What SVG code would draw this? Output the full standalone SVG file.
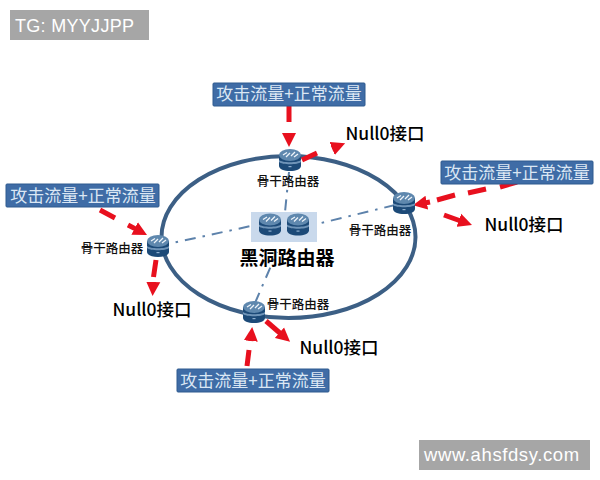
<svg xmlns="http://www.w3.org/2000/svg" width="600" height="480" viewBox="0 0 600 480">
<style>
text{font-family:"Noto Sans CJK SC","Noto Sans",sans-serif;text-anchor:middle}
.wm{fill:#a6a6a6}
.wt{font-family:"Liberation Sans",sans-serif;fill:#fff;text-anchor:start}
.tag{fill:#3f6ca6;stroke:#2f5a8f;stroke-width:1}
.tagt{font-size:17px;fill:#dbe7f4}
.rt{font-size:12.5px;fill:#111;font-weight:500}
.nul{font-size:17.5px;fill:#000;font-weight:500}
.atk{fill:none;stroke:#e8101e;stroke-width:5;marker-end:url(#ah)}
.link{fill:none;stroke:#5d82ab;stroke-width:2;stroke-dasharray:11 7 2.5 7}
</style>
<defs>
<marker id="ah" markerUnits="userSpaceOnUse" markerWidth="15" markerHeight="15" refX="2" refY="7" orient="auto" viewBox="0 0 15 14">
<polygon points="0,0 14,7 0,14" fill="#e8101e"/>
</marker>
<symbol id="router" viewBox="0 0 22 22" overflow="visible">
<path d="M0 6 V17 C0 20 5 22 11 22 C17 22 22 20 22 17 V6 Z" fill="#1c4a78"/>
<path d="M0 11 C3 14 19 14 22 11 V13 C19 16 3 16 0 13 Z" fill="#6f94b8"/>
<ellipse cx="11" cy="6" rx="11" ry="6" fill="#5f88ae"/>
<path d="M4 6 L8 3.5 M7 8 L11 4 M12 7 L16 3 M15 8 L19 5" stroke="#eef4fa" stroke-width="1.3" fill="none"/>
<rect x="9.5" y="17" width="3" height="1.2" fill="#8fb0cf"/>
</symbol>
</defs>

<g id="watermark-tg"><rect class="wm" x="10" y="10" width="139" height="30"/><text class="wt" x="15" y="32" font-size="18" letter-spacing="0.3">TG: MYYJJPP</text></g>
<g id="watermark-url"><rect class="wm" x="419" y="440" width="171" height="30"/><text class="wt" x="424" y="461" font-size="18.5" letter-spacing="0.6">www.ahsfdsy.com</text></g>

<ellipse id="ring" cx="288.5" cy="237" rx="127" ry="81" fill="none" stroke="#3c5f85" stroke-width="4"/>

<g id="connectors">
<path class="link" d="M158 246 L251 226"/>
<path class="link" d="M395 205 L317 224"/>
<path class="link" d="M289 172 L285 212"/>
<path class="link" d="M255 303 L277 252"/>
<path class="atk" d="M289 105 L289 122 M289 133 L289 135"/>
<path class="atk" d="M302 160 L317 153 M332 148.5 L334 147.7"/>
<path class="atk" d="M100 210 L115 218 M128 225 L136.4 229.4"/>
<path class="atk" d="M156 260 L153.5 277 M153.3 282 L153.2 284"/>
<path class="atk" d="M517 182 L500 187 M486 189 L468 193 M455 195 L437 200 M430 202 L424.8 203"/>
<path class="atk" d="M444 215 L460.7 221"/>
<path class="atk" d="M247 366 L249 350 M250.8 341 L251 339"/>
<path class="atk" d="M266 321 L281 334"/>
</g>

<g id="blackhole">
<rect x="251" y="212" width="66" height="30" fill="#c9d9ec"/>
<use href="#router" x="259" y="213" width="22" height="23"/>
<use href="#router" x="287" y="213" width="22" height="23"/>
<text x="287" y="265" font-size="19" font-weight="700" fill="#000">黑洞路由器</text>
</g>
<g id="router-top"><use href="#router" x="279" y="149" width="22" height="22"/><text class="rt" x="288" y="186">骨干路由器</text></g>
<g id="router-left"><use href="#router" x="147" y="235" width="22" height="22"/><text class="rt" x="112" y="253">骨干路由器</text></g>
<g id="router-right"><use href="#router" x="393" y="192" width="22" height="22"/><text class="rt" x="380" y="235">骨干路由器</text></g>
<g id="router-bottom"><use href="#router" x="243" y="301" width="22" height="22"/><text class="rt" x="298" y="309">骨干路由器</text></g>

<g id="tag-top"><rect class="tag" x="213" y="83" width="152" height="23" rx="1"/><text class="tagt" x="289" y="100">攻击流量+正常流量</text></g>
<g id="tag-left"><rect class="tag" x="6" y="184" width="153" height="23" rx="1"/><text class="tagt" x="83" y="202">攻击流量+正常流量</text></g>
<g id="tag-right"><rect class="tag" x="441" y="161" width="152" height="23" rx="1"/><text class="tagt" x="517" y="179">攻击流量+正常流量</text></g>
<g id="tag-bottom"><rect class="tag" x="177" y="369" width="152" height="23" rx="1"/><text class="tagt" x="253" y="387">攻击流量+正常流量</text></g>

<g id="null-top"><text class="nul" x="385" y="140">Null0接口</text></g>
<g id="null-left"><text class="nul" x="152" y="316">Null0接口</text></g>
<g id="null-right"><text class="nul" x="524" y="231">Null0接口</text></g>
<g id="null-bottom"><text class="nul" x="339" y="354">Null0接口</text></g>
</svg>
